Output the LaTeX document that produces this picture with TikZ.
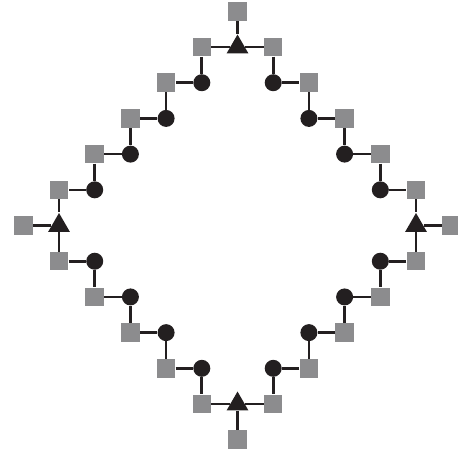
\documentclass[tikz,border=0pt]{standalone}
\usetikzlibrary{shapes.geometric}
\definecolor{ink}{HTML}{231F20}
\definecolor{stone}{HTML}{8C8C8E}
\tikzset{
  sq/.style={rectangle,fill=stone,minimum size=0.37cm,inner sep=0pt},
  ball/.style={circle,fill=ink,minimum size=0.34cm,inner sep=0pt},
  tri/.style={regular polygon,regular polygon sides=3,fill=ink,minimum size=0.5cm,inner sep=0pt},
  link/.style={draw=ink,line width=1.5pt}
}
\begin{document}
\begin{tikzpicture}[x=0.714cm,y=0.714cm]
\path[use as bounding box] (-6.653,-6.373) rectangle (6.176,6.317);
% corners
\node[tri] (tT) at (0,5) {}; \node[tri] (tL) at (-5,0) {}; \node[tri] (tR) at (5,0) {}; \node[tri] (tB) at (0,-5) {};
\node[sq] (oT) at (0,6) {}; \node[sq] (oL) at (-6,0) {}; \node[sq] (oR) at (6,0) {}; \node[sq] (oB) at (0,-6) {};
\draw[link] (tT)--(oT); \draw[link] (tL)--(oL); \draw[link] (tR)--(oR); \draw[link] (tB)--(oB);

% upper left
\node[sq] (ulA) at (-1,5) {}; \node[ball] (ulB) at (-1,4) {}; \node[sq] (ulC) at (-2,4) {}; \node[ball] (ulD) at (-2,3) {};
\node[sq] (ulE) at (-3,3) {}; \node[ball] (ulF) at (-3,2) {}; \node[sq] (ulG) at (-4,2) {}; \node[ball] (ulH) at (-4,1) {};
\node[sq] (ulI) at (-5,1) {};
\draw[link] (tT)--(ulA)--(ulB)--(ulC)--(ulD)--(ulE)--(ulF)--(ulG)--(ulH)--(ulI)--(tL);

% upper right
\node[sq] (urA) at (1,5) {}; \node[ball] (urB) at (1,4) {}; \node[sq] (urC) at (2,4) {}; \node[ball] (urD) at (2,3) {};
\node[sq] (urE) at (3,3) {}; \node[ball] (urF) at (3,2) {}; \node[sq] (urG) at (4,2) {}; \node[ball] (urH) at (4,1) {};
\node[sq] (urI) at (5,1) {};
\draw[link] (tT)--(urA)--(urB)--(urC)--(urD)--(urE)--(urF)--(urG)--(urH)--(urI)--(tR);

% lower left
\node[sq] (llA) at (-5,-1) {}; \node[ball] (llB) at (-4,-1) {}; \node[sq] (llC) at (-4,-2) {}; \node[ball] (llD) at (-3,-2) {};
\node[sq] (llE) at (-3,-3) {}; \node[ball] (llF) at (-2,-3) {}; \node[sq] (llG) at (-2,-4) {}; \node[ball] (llH) at (-1,-4) {};
\node[sq] (llI) at (-1,-5) {};
\draw[link] (tL)--(llA)--(llB)--(llC)--(llD)--(llE)--(llF)--(llG)--(llH)--(llI)--(tB);

% lower right
\node[sq] (lrA) at (5,-1) {}; \node[ball] (lrB) at (4,-1) {}; \node[sq] (lrC) at (4,-2) {}; \node[ball] (lrD) at (3,-2) {};
\node[sq] (lrE) at (3,-3) {}; \node[ball] (lrF) at (2,-3) {}; \node[sq] (lrG) at (2,-4) {}; \node[ball] (lrH) at (1,-4) {};
\node[sq] (lrI) at (1,-5) {};
\draw[link] (tR)--(lrA)--(lrB)--(lrC)--(lrD)--(lrE)--(lrF)--(lrG)--(lrH)--(lrI)--(tB);
\end{tikzpicture}
\end{document}
